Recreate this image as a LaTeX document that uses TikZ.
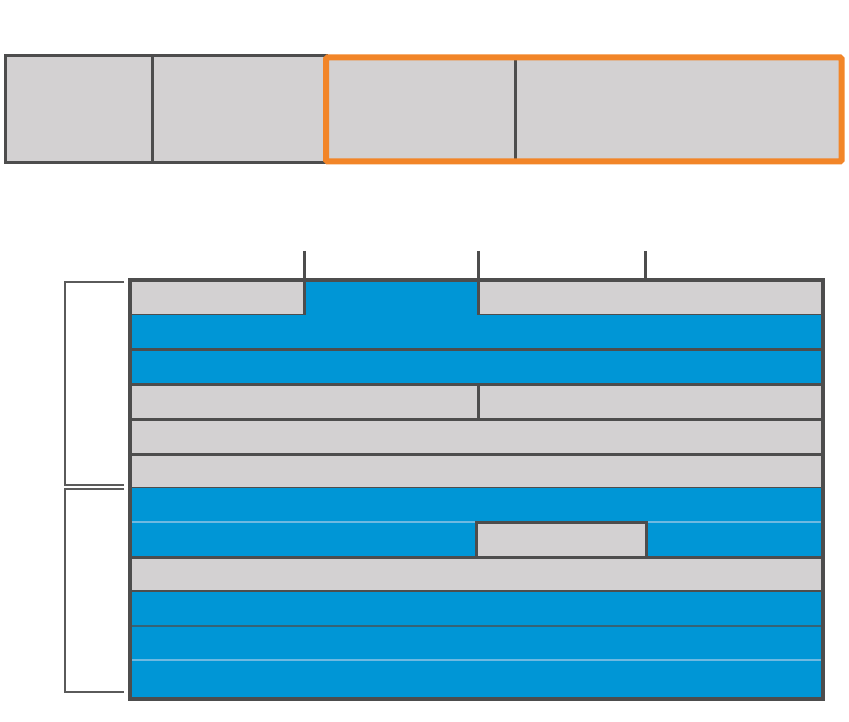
\documentclass[tikz,border=0pt]{standalone}
\begin{document}
\begin{tikzpicture}[x=1pt,y=-1pt,
  dk/.style={draw=cDark,line width=3pt},
  graycell/.style={fill=cGray,draw=cDark,line width=3pt},
  lightsep/.style={draw=cLightBlue,line width=1.2pt},
  bracketline/.style={draw=cBracket,line width=1.6pt},
  ]
\definecolor{cGray}{RGB}{211,209,210}
\definecolor{cDark}{RGB}{77,77,77}
\definecolor{cBlue}{RGB}{0,150,214}
\definecolor{cLightBlue}{RGB}{110,185,225}
\definecolor{cOrange}{RGB}{242,133,40}
\definecolor{cBracket}{RGB}{90,90,90}
\useasboundingbox (0,0) rectangle (849,722);
% top bar
\fill[cGray] (5,56) rectangle (843,163);
\draw[dk] (5,56) rectangle (326,163);
\draw[dk] (152,56) -- (152,163);
\draw[dk] (515,58) -- (515,160);
\draw[draw=cOrange,line width=6pt,rounded corners=1.5pt] (326,57.5) rectangle (841.5,161.5);
% grid rows: y boundaries
\def\ya{280}\def\yb{315}\def\yc{349}\def\yd{384}\def\ye{419}\def\yf{454}
\def\yg{488}\def\yh{522}\def\yi{557}\def\yj{591}\def\yk{626}\def\yl{660}\def\ym{699}
% row 1
\draw[graycell] (130,\ya) rectangle (304,\yb);
\fill[cBlue] (304,\ya) rectangle (478,\yb);
\draw[graycell] (478,\ya) rectangle (823,\yb);
% rows 2-3
\fill[cBlue] (130,\yb) rectangle (823,\yd);
\draw[dk] (130,\yc) -- (823,\yc);
% row 4-6
\draw[graycell] (130,\yd) rectangle (478,\ye);
\draw[graycell] (478,\yd) rectangle (823,\ye);
\draw[graycell] (130,\ye) rectangle (823,\yf);
\draw[graycell] (130,\yf) rectangle (823,\yg);
% row 7-8
\fill[cBlue] (130,\yg) rectangle (823,\yi);
\draw[lightsep] (130,\yh) -- (823,\yh);
\draw[dk] (476,\yh) rectangle (646,\yi);
\fill[cGray] (477.5,523.5) rectangle (644.5,555.5);
\draw[dk] (130,\yi) -- (823,\yi);
% row 9
\draw[graycell] (130,\yi) rectangle (823,\yj);
% rows 10-12
\fill[cBlue] (130,\yj) rectangle (823,\ym);
\draw[draw=cDark,line width=2pt] (130,\yj) -- (823,\yj);
\draw[draw=cDark!70!cBlue,line width=1.2pt] (130,\yk) -- (823,\yk);
\draw[lightsep] (130,\yl) -- (823,\yl);
% outer frame
\draw[dk,line width=3.2pt] (130,\ya) rectangle (823,\ym);
% ticks
\draw[dk] (304,251) -- (304,\yb);
\draw[dk] (478,251) -- (478,\yb);
\draw[dk] (645,251) -- (645,\ya);
% brackets
\draw[bracketline] (124,282) -- (65,282) -- (65,485) -- (124,485);
\draw[bracketline] (124,489) -- (65,489) -- (65,692) -- (124,692);
\end{tikzpicture}
\end{document}
